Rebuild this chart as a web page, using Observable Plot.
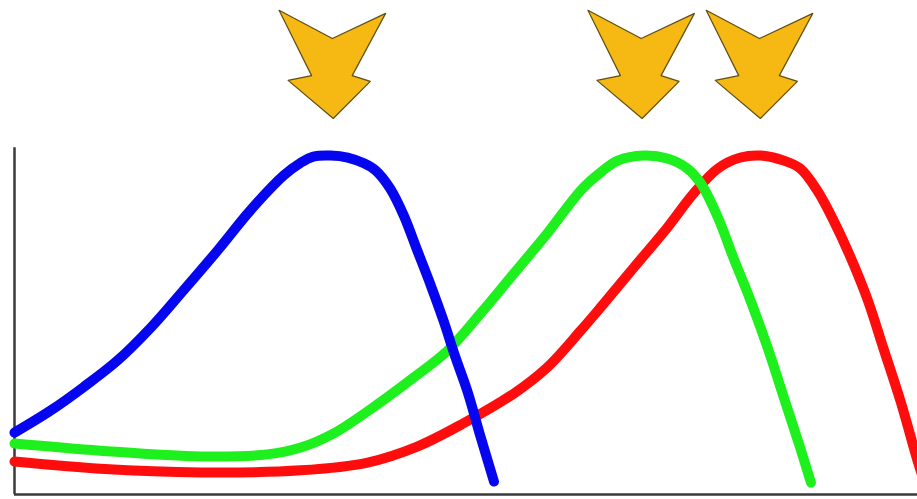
<!DOCTYPE html>
<html>
<head>
<meta charset="utf-8">
<script src="https://cdn.jsdelivr.net/npm/d3@7"></script>
<script src="https://cdn.jsdelivr.net/npm/@observablehq/plot@0.6"></script>
<style>
  html, body { margin: 0; padding: 0; background: #fff; overflow: hidden; }
  svg { display: block; }
</style>
</head>
<body>
<div id="chart"></div>
<script>
// Series values (x: 0..100, intensity: 0..100)
const blueX  = [0, 4.0, 7.6, 11.4, 15.1, 18.7, 22.5, 26.1, 29.8, 31.7, 33.1, 35.0, 36.9, 38.7, 40.0, 41.6, 43.1, 44.6, 46.1, 47.5, 48.8, 50.2, 51.6, 53.1];
const blueY  = [18.2, 24.7, 31.5, 39.4, 49.1, 60.0, 71.8, 83.5, 93.8, 97.6, 99.4, 99.7, 99.1, 97.4, 95.3, 90.0, 82.1, 71.8, 61.5, 51.2, 40.6, 30.0, 17.1, 3.8];

const greenX = [0, 9.5, 20.6, 28.0, 31.7, 35.3, 40.5, 44.2, 48.0, 51.6, 55.3, 59.0, 62.7, 64.9, 66.8, 69.7, 72.3, 74.5, 76.0, 77.9, 79.6, 81.5, 83.4, 85.2, 87.0, 88.2];
const greenY = [15.0, 12.9, 11.2, 11.8, 13.8, 17.9, 27.1, 34.4, 42.4, 53.2, 65.0, 76.8, 89.4, 94.7, 98.2, 99.7, 98.8, 95.9, 91.5, 81.5, 69.7, 57.1, 43.2, 28.5, 13.8, 3.5];

const redX   = [0, 9.5, 20.6, 31.7, 39.1, 44.6, 49.7, 55.3, 59.0, 62.7, 64.9, 68.6, 72.3, 75.2, 77.9, 80.4, 82.6, 85.2, 87.0, 88.9, 90.7, 92.6, 94.5, 96.2, 98.1, 100, 100.6];
const redY   = [9.7, 7.6, 6.5, 7.1, 9.4, 14.1, 20.9, 29.7, 37.4, 48.2, 55.0, 66.8, 78.5, 88.5, 95.9, 99.1, 99.7, 98.2, 95.9, 89.4, 80.6, 69.7, 57.1, 43.2, 27.6, 10.0, 5.0];

// Arrow markers above the peaks (tip position in data units)
const arrowNames = ["blue", "green", "red"];
const arrowTipX  = [35.3, 69.5, 82.6];
const arrowTipY  = 110.6;
// Arrow outline, offsets from the tip in data units
const arrowDX = [-6.0, -0.1, 5.8, 2.1, 4.1, 0, -5.0, -2.4];
const arrowDY = [31.8, 23.5, 30.9, 12.6, 10.9, 0, 11.2, 12.6];

const series = [
  {name: "red",   xs: redX,   ys: redY,   color: "#ff0d0d"},
  {name: "green", xs: greenX, ys: greenY, color: "#1ef01e"},
  {name: "blue",  xs: blueX,  ys: blueY,  color: "#0505f0"}
];

const lineData = series.flatMap(s => s.xs.map((x, i) => ({series: s.name, x, y: s.ys[i]})));
const arrowData = arrowNames.flatMap((n, k) =>
  arrowDX.map((dx, i) => ({arrow: n, x: arrowTipX[k] + dx, y: arrowTipY + arrowDY[i]})));

const chart = Plot.plot({
  width: 917,
  height: 499,
  marginLeft: 14,
  marginRight: 0,
  marginTop: 154,
  marginBottom: 5,
  x: {domain: [0, 100], axis: null},
  y: {domain: [0, 100], axis: null},
  style: {background: "#fff", overflow: "visible"},
  marks: [
    Plot.ruleX([0], {y1: 0, y2: 102, stroke: "#3a3a3a", strokeWidth: 2.5}),
    Plot.ruleY([0], {x1: 0, x2: 100, stroke: "#3a3a3a", strokeWidth: 2.5}),
    ...series.map(s => Plot.line(lineData.filter(d => d.series === s.name), {
      x: "x", y: "y",
      stroke: s.color,
      strokeWidth: 10,
      strokeLinecap: "round",
      strokeLinejoin: "round",
      curve: "catmull-rom"
    })),
    Plot.line(arrowData, {
      x: "x", y: "y", z: "arrow",
      fill: "#f6b812",
      stroke: "#5e4e12",
      strokeWidth: 1.2,
      strokeLinejoin: "round",
      curve: "linear-closed"
    })
  ]
});

document.getElementById("chart").appendChild(chart);
</script>
</body>
</html>
